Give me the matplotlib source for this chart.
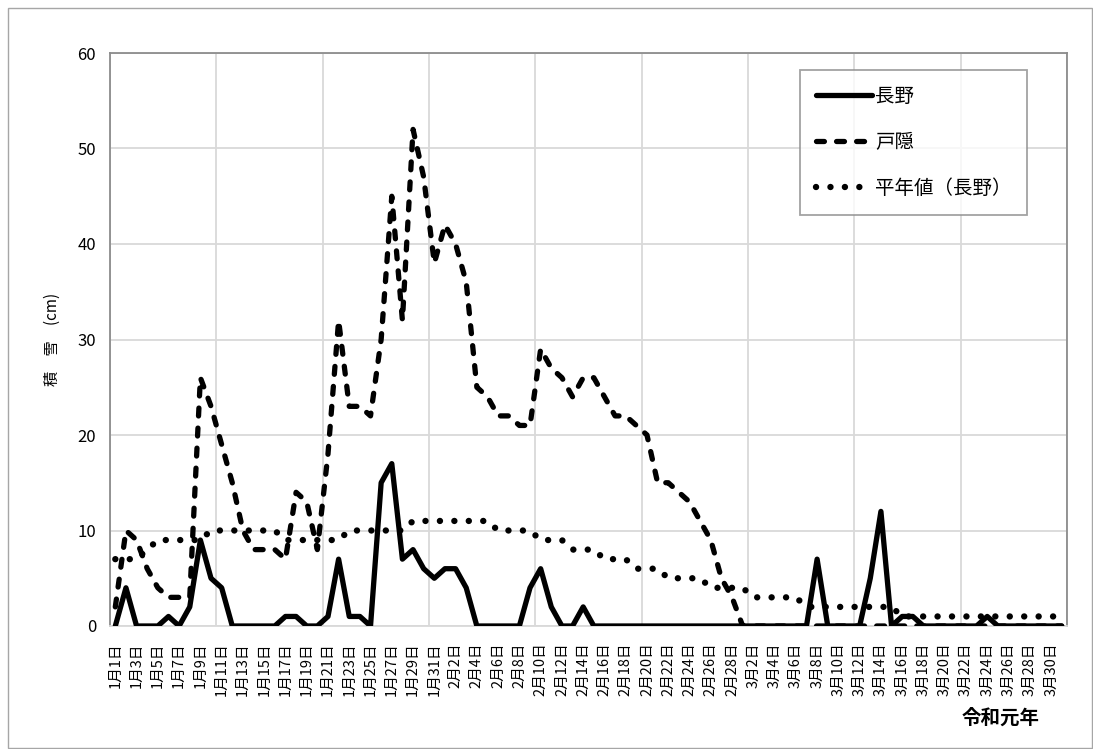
import numpy as np
import pandas as pd
import matplotlib
matplotlib.use('Agg')
import matplotlib.pyplot as plt
from matplotlib.patches import Rectangle

plt.rcParams['font.family'] = ['Noto Sans CJK JP', 'DejaVu Sans']

# 日付ラベル (1月1日〜3月31日)
dias = pd.date_range('2019-01-01', '2019-03-31')
rotulos = [f'{d.month}月{d.day}日' for d in dias]

# 長野 (積雪 cm)
nagano = [0, 4, 0, 0, 0, 1, 0, 2, 9, 5,
          4, 0, 0, 0, 0, 0, 1, 1, 0, 0,
          1, 7, 1, 1, 0, 15, 17, 7, 8, 6,
          5, 6, 6, 4, 0, 0, 0, 0, 0, 4,
          6, 2, 0, 0, 2, 0, 0, 0, 0, 0,
          0, 0, 0, 0, 0, 0, 0, 0, 0, 0,
          0, 0, 0, 0, 0, 0, 7, 0, 0, 0,
          0, 5, 12, 0, 1, 1, 0, 0, 0, 0,
          0, 0, 1, 0, 0, 0, 0, 0, 0, 0]

# 戸隠
togakushi = [2, 10, 9, 6, 4, 3, 3, 3, 26, 23,
             19, 15, 10, 8, 8, 8, 7, 14, 13, 8,
             18, 32, 23, 23, 22, 30, 45, 32, 52, 47,
             38, 42, 40, 36, 25, 24, 22, 22, 21, 21,
             29, 27, 26, 24, 26, 26, 24, 22, 22, 21,
             20, 15, 15, 14, 13, 11, 9, 5, 3, 0,
             0, 0, 0, 0, 0, 0, 0, 0, 0, 0,
             0, 0, 0, 0, 0, 0, 0, 0, 0, 0,
             0, 0, 0, 0, 0, 0, 0, 0, 0, 0]

# 平年値（長野）
normal = [7, 7, 7, 8, 9, 9, 9, 9, 9, 10,
          10, 10, 10, 10, 10, 10, 9, 9, 9, 9,
          9, 9, 10, 10, 10, 10, 10, 10, 11, 11,
          11, 11, 11, 11, 11, 11, 10, 10, 10, 10,
          9, 9, 9, 8, 8, 8, 7, 7, 7, 6,
          6, 6, 5, 5, 5, 5, 4, 4, 4, 4,
          3, 3, 3, 3, 3, 2, 2, 2, 2, 2,
          2, 2, 2, 2, 1, 1, 1, 1, 1, 1,
          1, 1, 1, 1, 1, 1, 1, 1, 1, 1]

x = np.arange(len(rotulos))

fig = plt.figure(figsize=(10.93, 7.49), dpi=100)
fig.patches.append(Rectangle((8 / 1093, 1 / 749), 1084 / 1093, 740 / 749,
                             transform=fig.transFigure, fill=False,
                             edgecolor='#a6a6a6', linewidth=1))
ax = fig.add_axes([110 / 1093, 1 - 626 / 749, 957 / 1093, 573 / 749])

ax.plot(x, nagano, color='black', linewidth=3.8, solid_joinstyle='round',
        solid_capstyle='round', label='長野', zorder=4)
ax.plot(x, togakushi, color='black', linewidth=3.8, linestyle=(0, (1.5, 2.3)),
        dash_capstyle='round', dash_joinstyle='round', label='戸隠', zorder=3)
ax.plot(x, normal, color='black', linewidth=4.6, linestyle=(0, (0.01, 2.25)),
        dash_capstyle='round', label='平年値（長野）', zorder=2)

ax.set_xlim(-0.5, len(x) - 0.5)
ax.set_ylim(0, 60)
ax.set_yticks(range(0, 61, 10))
ax.set_xticks(x[::2])
ax.set_xticklabels(rotulos[::2], rotation=90, fontsize=10.5)
ax.set_xticks(np.arange(-0.5, len(x), 10), minor=True)
ax.tick_params(axis='both', which='both', length=0)
ax.tick_params(axis='y', labelsize=12, pad=10)
ax.tick_params(axis='x', pad=12)

ax.grid(axis='y', which='major', color='#d9d9d9', linewidth=1.3)
ax.grid(axis='x', which='minor', color='#d9d9d9', linewidth=1.3)
ax.set_axisbelow(True)
for lado in ['left', 'top', 'right']:
    ax.spines[lado].set_color('#8c8c8c')
    ax.spines[lado].set_linewidth(1.3)
ax.spines['bottom'].set_color('#d9d9d9')
ax.spines['bottom'].set_linewidth(1.3)

ax.set_ylabel('積　雪　(cm)', fontsize=11, labelpad=12)

leg = ax.legend(loc='upper left', bbox_to_anchor=(800 / 1093, 1 - 70 / 749),
                bbox_transform=fig.transFigure, frameon=True, fancybox=False,
                fontsize=14, handlelength=2.9, handletextpad=0.15,
                labelspacing=1.3, borderpad=0.8, borderaxespad=0)
leg.get_frame().set_edgecolor('#8c8c8c')
leg.get_frame().set_linewidth(1.3)

fig.text(1040 / 1093, 1 - 718 / 749, '令和元年', fontsize=14, fontweight='bold',
         ha='right', va='center')

plt.savefig('out.png', dpi=100)
